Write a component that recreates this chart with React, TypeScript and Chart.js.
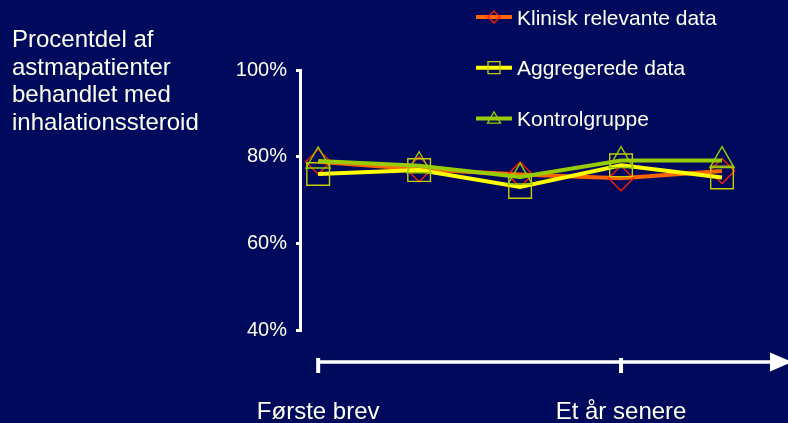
import React, { useEffect, useRef } from 'react';
import { Chart, registerables } from 'chart.js';
Chart.register(...registerables);

const categories = ['Første brev', '', '', 'Et år senere', ''];
const axisLabelIdx = [0, 3];
const seriesNames = ['Klinisk relevante data', 'Aggregerede data', 'Kontrolgruppe'];
const klinisk = [78.8, 77.1, 75.9, 75.0, 76.7];
const aggregerede = [76.0, 76.9, 73.0, 78.0, 75.2];
const kontrol = [79.0, 77.9, 75.3, 79.1, 79.1];
const yTicks = [40, 60, 80, 100];
const titleLines = ['Procentdel af', 'astmapatienter', 'behandlet med', 'inhalationssteroid'];

const BG = '#000A5C';
const TEXT = '#FFFFF0';
const FONT = 'Arial, "Liberation Sans", sans-serif';

function drawMarker(ctx: CanvasRenderingContext2D, style: string, x: number, y: number, r: number) {
  ctx.beginPath();
  if (style === 'rectRot') {
    ctx.moveTo(x - r, y); ctx.lineTo(x, y - r); ctx.lineTo(x + r, y); ctx.lineTo(x, y + r); ctx.closePath();
  } else if (style === 'rect') {
    const s = r * Math.SQRT1_2;
    ctx.rect(x - s, y - s, 2 * s, 2 * s);
  } else {
    ctx.moveTo(x, y - r);
    ctx.lineTo(x + r * Math.sin(2 * Math.PI / 3), y - r * Math.cos(2 * Math.PI / 3));
    ctx.lineTo(x + r * Math.sin(4 * Math.PI / 3), y - r * Math.cos(4 * Math.PI / 3));
    ctx.closePath();
  }
  ctx.stroke();
}

const overlay = {
  id: 'overlay',
  beforeDraw(chart: any) {
    const ctx = chart.ctx;
    ctx.save();
    ctx.fillStyle = BG;
    ctx.fillRect(0, 0, chart.width, chart.height);
    ctx.restore();
  },
  afterDraw(chart: any) {
    const ctx: CanvasRenderingContext2D = chart.ctx;
    const xs = chart.scales.x;
    ctx.save();
    // left title
    ctx.fillStyle = TEXT;
    ctx.font = '24px ' + FONT;
    ctx.textAlign = 'left';
    ctx.textBaseline = 'alphabetic';
    titleLines.forEach((l, i) => ctx.fillText(l, 12, 47 + i * 27.6));

    // x axis
    const ay = 362;
    const x0 = xs.getPixelForValue(0);
    ctx.strokeStyle = '#FFFFFF';
    ctx.fillStyle = '#FFFFFF';
    ctx.lineWidth = 3.5;
    ctx.beginPath();
    ctx.moveTo(x0, ay);
    ctx.lineTo(772, ay);
    ctx.stroke();
    ctx.beginPath();
    ctx.moveTo(792, ay);
    ctx.lineTo(770, ay - 9.5);
    ctx.lineTo(770, ay + 9.5);
    ctx.closePath();
    ctx.fill();
    ctx.lineWidth = 4;
    ctx.font = '24px ' + FONT;
    ctx.textAlign = 'center';
    axisLabelIdx.forEach((idx) => {
      const px = xs.getPixelForValue(idx);
      ctx.beginPath();
      ctx.moveTo(px, ay - 4);
      ctx.lineTo(px, ay + 11);
      ctx.stroke();
      ctx.fillStyle = TEXT;
      ctx.fillText(categories[idx], px, 419);
    });

    // legend
    chart.data.datasets.forEach((ds: any, i: number) => {
      const ly = 17 + i * 50.7;
      ctx.strokeStyle = ds.borderColor;
      ctx.lineWidth = 4;
      ctx.beginPath();
      ctx.moveTo(476, ly);
      ctx.lineTo(512, ly);
      ctx.stroke();
      ctx.strokeStyle = ds.pointBorderColor;
      ctx.lineWidth = 1.3;
      const r = ds.pointStyle === 'rect' ? 8.5 : ds.pointStyle === 'triangle' ? 7.5 : 6;
      drawMarker(ctx, ds.pointStyle, 494, ds.pointStyle === 'triangle' ? ly + 1 : ly, r);
      ctx.fillStyle = TEXT;
      ctx.font = '21px ' + FONT;
      ctx.textAlign = 'left';
      ctx.textBaseline = 'alphabetic';
      ctx.fillText(seriesNames[i], 517, ly + 7.5);
    });
    ctx.restore();
  },
};

export default function App() {
  const ref = useRef<HTMLCanvasElement>(null);
  useEffect(() => {
    document.body.style.margin = '0';
    document.body.style.background = BG;
    const toXY = (arr: number[]) => arr.map((y, i) => ({ x: i, y }));
    const chart = new Chart(ref.current as HTMLCanvasElement, {
      type: 'line',
      data: {
        datasets: [
          {
            label: seriesNames[0],
            data: toXY(klinisk),
            borderColor: '#FF6600',
            borderWidth: 4,
            pointStyle: 'rectRot',
            pointRadius: 12.5,
            pointBorderColor: '#FF1A00',
            pointBackgroundColor: 'rgba(0,0,0,0)',
            pointBorderWidth: 1.4,
            tension: 0,
            order: 3,
            clip: false,
          } as any,
          {
            label: seriesNames[1],
            data: toXY(aggregerede),
            borderColor: '#FFFF00',
            borderWidth: 4,
            pointStyle: 'rect',
            pointRadius: 16,
            pointBorderColor: '#CCCC00',
            pointBackgroundColor: 'rgba(0,0,0,0)',
            pointBorderWidth: 1.4,
            tension: 0,
            order: 2,
            clip: false,
          },
          {
            label: seriesNames[2],
            data: toXY(kontrol),
            borderColor: '#99CC00',
            borderWidth: 4,
            pointStyle: 'triangle',
            pointRadius: 14,
            pointBorderColor: '#99CC00',
            pointBackgroundColor: 'rgba(0,0,0,0)',
            pointBorderWidth: 1.4,
            tension: 0,
            order: 1,
            clip: false,
          },
        ],
      },
      options: {
        responsive: false,
        animation: false,
        layout: { padding: { left: 0, top: 70, right: 66, bottom: 93 } },
        plugins: { legend: { display: false }, tooltip: { enabled: false } },
        scales: {
          x: { type: 'linear', min: -0.18, max: 4, display: false },
          y: {
            min: 40,
            max: 100,
            afterFit: (s: any) => { s.width = 300; },
            afterBuildTicks: (s: any) => { s.ticks = yTicks.map((v) => ({ value: v })); },
            ticks: {
              color: TEXT,
              font: { size: 20, family: FONT },
              padding: 9,
              callback: (v: any) => v + '%',
            },
            grid: { drawOnChartArea: false, drawTicks: true, tickLength: 4, color: '#FFFFFF', lineWidth: 3 },
            border: { display: true, color: '#FFFFFF', width: 3 },
          },
        },
      },
      plugins: [overlay],
    });
    return () => chart.destroy();
  }, []);
  return (
    <div style={{ width: 788, height: 423 }}>
      <canvas ref={ref} width={788} height={423} style={{ display: 'block' }} />
    </div>
  );
}
